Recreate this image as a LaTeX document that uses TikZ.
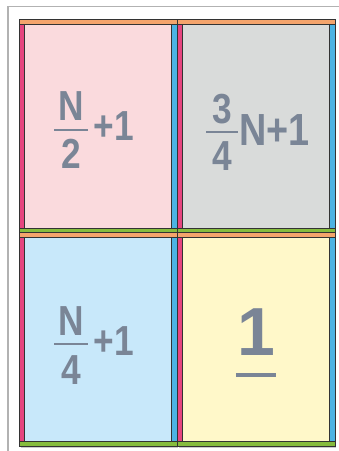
\documentclass[tikz,border=0pt]{standalone}
\usepackage{fontspec}
\setmainfont{Liberation Sans}[FakeStretch=0.84]
\newfontfamily\widesans{Liberation Sans}
\usepackage{tikz}

\definecolor{barorange}{HTML}{F4A46C}
\definecolor{barmagenta}{HTML}{E6457F}
\definecolor{barblue}{HTML}{4CB3E3}
\definecolor{bargreen}{HTML}{86BC3E}
\definecolor{cellpink}{HTML}{FADADD}
\definecolor{cellgray}{HTML}{D9DBDA}
\definecolor{cellblue}{HTML}{C8E8FA}
\definecolor{cellyellow}{HTML}{FFF8C9}
\definecolor{numgray}{HTML}{7A8596}

\begin{document}
\begin{tikzpicture}[x=1pt, y=-1pt,
  edge/.style={draw=black!80, line width=0.6pt},
  num/.style={text=numgray, inner sep=0pt, font=\bfseries\fontsize{42}{44}\selectfont},
  bignum/.style={text=numgray, inner sep=0pt, font=\widesans\bfseries\fontsize{68}{70}\selectfont},
  fracbar/.style={numgray, line width=2pt},
]
  \useasboundingbox (0,0) rectangle (339,451);

  % Outer frame
  \draw[black!30, line width=1.5pt] (8,451) -- (8,6.5) -- (339,6.5);

  % Quadrants with coloured edges
  \foreach \xa/\xb/\ya/\yb/\cellc in {19.5/177/19.3/232.7/cellpink,
                                      177/335/19.3/232.7/cellgray,
                                      19.5/177/232.7/446.3/cellblue,
                                      177/335/232.7/446.3/cellyellow} {
    \fill[black!20] (\xa+1.5,\yb) rectangle (\xb+1,\yb+1.6);
    \draw[edge, fill=\cellc] (\xa,\ya) rectangle (\xb,\yb);
    \draw[edge, fill=barmagenta] (\xa,\ya+5) rectangle (\xa+5,\yb-4.6);
    \draw[edge, fill=barblue] (\xb-5.3,\ya+5) rectangle (\xb,\yb-4.6);
    \draw[edge, fill=barorange] (\xa,\ya) rectangle (\xb,\ya+5);
    \draw[edge, fill=bargreen] (\xa,\yb-4.6) rectangle (\xb,\yb);
  }

  % N/2 + 1
  \node[num] (halfnum) at (71,106) {N};
  \draw[fracbar] (54,130) -- (88,130);
  \node[num] (halfden) at (71,153.5) {2};
  \node[num, anchor=west] (halfplus) at (93.5,126.5) {+1};

  % 3/4 N + 1
  \node[num] (tqnum) at (222,109) {3};
  \draw[fracbar] (206,132) -- (238,132);
  \node[num] (tqden) at (222,156.5) {4};
  \node[num, anchor=west, font=\bfseries\fontsize{45}{47}\selectfont] (tqplus) at (239,130) {N+1};

  % N/4 + 1
  \node[num] (qnum) at (71,321) {N};
  \draw[fracbar] (54,344) -- (88,344);
  \node[num] (qden) at (71,370.5) {4};
  \node[num, anchor=west] (qplus) at (93.5,341) {+1};

  % 1
  \node[bignum] (one) at (256,332.5) {1};
  \draw[numgray, line width=4.5pt] ([xshift=-1pt, yshift=-19pt]one.south west)
    -- ([xshift=1pt, yshift=-19pt]one.south east);
\end{tikzpicture}
\end{document}
